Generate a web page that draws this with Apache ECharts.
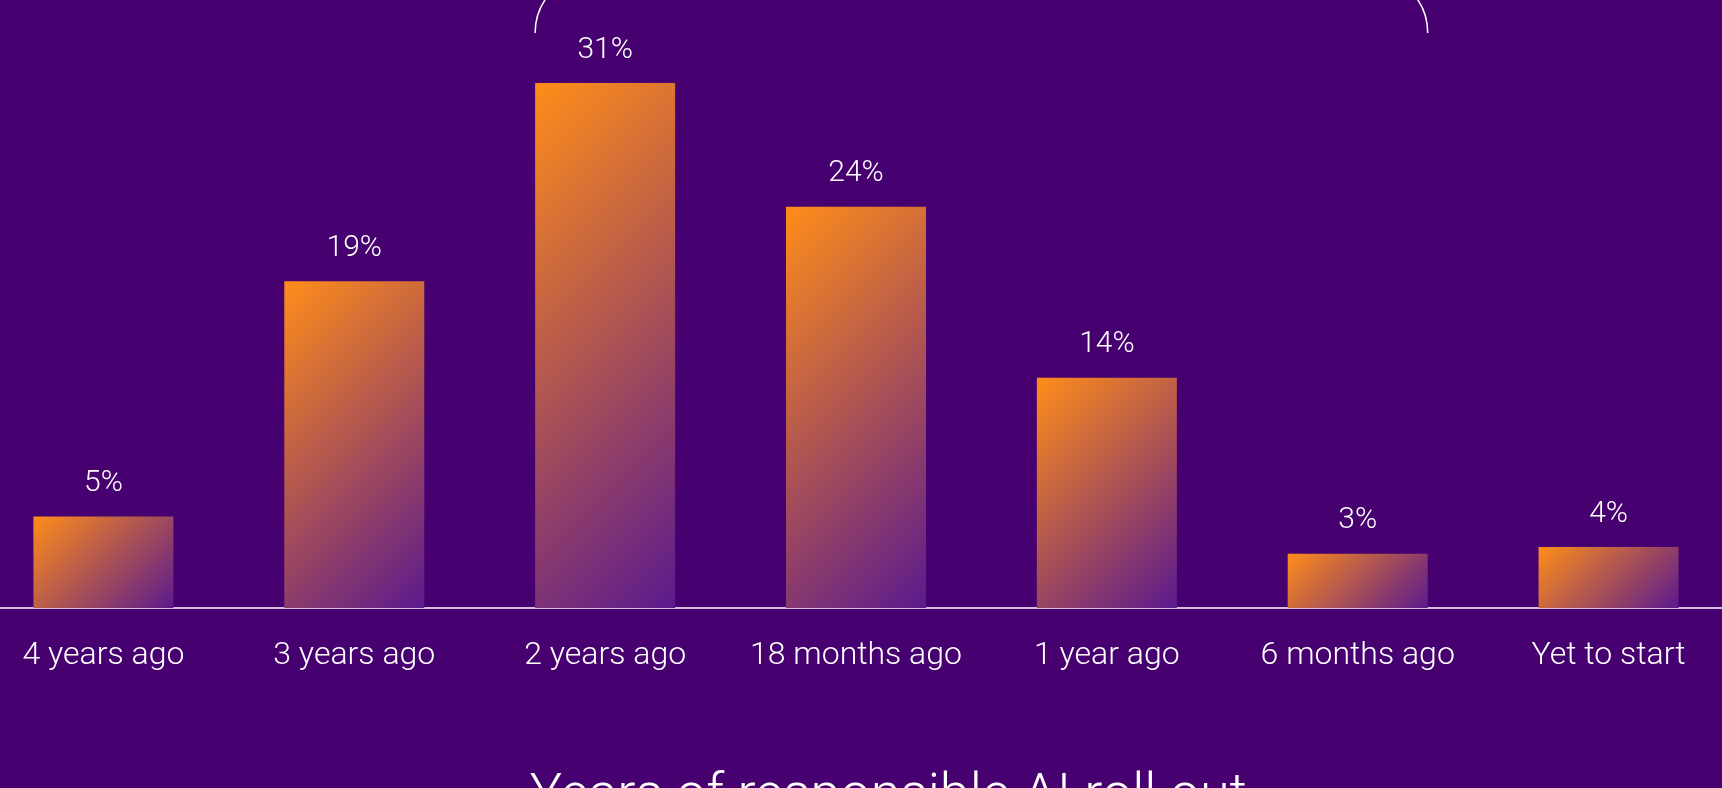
<!DOCTYPE html>
<html>
<head>
<meta charset="utf-8">
<title>Years of responsible AI roll out</title>
<script src="https://cdn.jsdelivr.net/npm/echarts@6/dist/echarts.min.js"></script>
<style>
  html, body { margin: 0; padding: 0; background: #47006f; overflow: hidden; }
  /* the plot is a bit wider than the page: first and last columns are cut */
  #main { width: 1756px; height: 788px; margin-left: -22.4px; }
</style>
</head>
<body>
<div id="main"></div>
<script>
// data (labels show the rounded share)
const categories = ['4 years ago', '3 years ago', '2 years ago', '18 months ago', '1 year ago', '6 months ago', 'Yet to start'];
const shares = [5.4, 19.3, 31, 23.7, 13.6, 3.2, 3.6];
const axisTitle = 'Years of responsible AI roll out';

const FONT = 'Roboto, "Noto Sans", sans-serif';
const BAR_W = 140;
const SHIFT = 22.4; // div offset, page x = chart x - SHIFT

var chart = echarts.init(document.getElementById('main'));

var option = {
  backgroundColor: '#47006f',
  animation: false,
  grid: { left: 0, right: 0, top: 15.3, bottom: 180 },
  xAxis: {
    type: 'category',
    data: categories,
    axisLine: { lineStyle: { color: '#ffffff', width: 1.5 } },
    axisTick: { show: false },
    axisLabel: {
      interval: 0,
      margin: 32,
      color: '#ffffff',
      fontSize: 32,
      fontWeight: 300,
      fontFamily: FONT,
    },
  },
  yAxis: { type: 'value', min: 0, max: 35, show: false },
  series: [
    {
      type: 'bar',
      barWidth: BAR_W,
      data: shares,
      label: {
        show: true,
        position: 'top',
        distance: 18,
        color: '#ffffff',
        fontSize: 30,
        fontWeight: 300,
        fontFamily: FONT,
        formatter: function (p) {
          return Math.round(p.value) + '%';
        },
      },
    },
  ],
};
chart.setOption(option);

// 45deg gradient in pixel space, so work out each bar's size from the axes
var base = chart.convertToPixel({ gridIndex: 0 }, [0, 0])[1];
var items = shares.map(function (v, i) {
  var top = chart.convertToPixel({ gridIndex: 0 }, [i, v])[1];
  var h = Math.max(base - top, 1);
  var w = BAR_W;
  return {
    value: v,
    itemStyle: {
      color: {
        type: 'linear',
        x: 0,
        y: 0,
        x2: (w + h) / (2 * w),
        y2: (w + h) / (2 * h),
        colorStops: [
          { offset: 0, color: '#ff8d19' },
          { offset: 1, color: '#5b1a8e' },
        ],
      },
    },
  };
});

// bracket over "2 years ago" .. "6 months ago" (its top is off the page)
var l = chart.convertToPixel({ gridIndex: 0 }, [2, 0])[0] - BAR_W / 2;
var r = chart.convertToPixel({ gridIndex: 0 }, [5, 0])[0] + BAR_W / 2;
var R = 60;
var lineStyle = { stroke: '#ffffff', lineWidth: 1.5, fill: null };

chart.setOption({
  series: [{ data: items }],
  graphic: [
    {
      type: 'arc',
      shape: { cx: l + R, cy: 33, r: R, startAngle: Math.PI, endAngle: Math.PI * 1.5, clockwise: true },
      style: lineStyle,
    },
    {
      type: 'arc',
      shape: { cx: r - R, cy: 33, r: R, startAngle: Math.PI * 1.5, endAngle: Math.PI * 2, clockwise: true },
      style: lineStyle,
    },
    {
      type: 'text',
      x: 888 + SHIFT,
      y: 770,
      style: {
        text: axisTitle,
        fill: '#ffffff',
        fontSize: 54,
        fontWeight: 300,
        fontFamily: FONT,
        align: 'center',
        verticalAlign: 'top',
      },
    },
  ],
});
</script>
</body>
</html>
